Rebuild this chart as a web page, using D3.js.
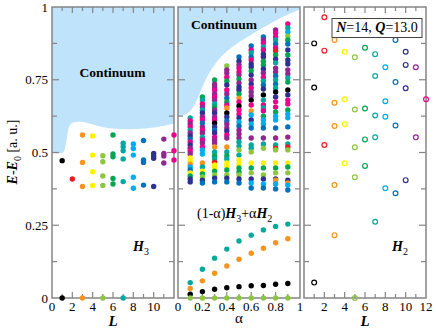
<!DOCTYPE html>
<html><head><meta charset="utf-8">
<script src="https://cdn.jsdelivr.net/npm/d3@7"></script>
<style>
body{margin:0;background:#fff}
svg{display:block}
text{font-family:"Liberation Serif","Times New Roman",serif;fill:#000}
</style>
</head><body><svg id="c" width="436" height="331"></svg>
<script>
// colour of each angular momentum L = 1..12
const lColors = ["#000000","#ed1c24","#f7941d","#fff200","#8dc63f","#00a651","#00a99d","#00aeef","#0072bc","#2e3192","#92278f","#ec008c"];

const yTicks = [0,0.25,0.5,0.75,1];
const yTickLabels = ["0","0.25","0.5","0.75","1"];
const lTicksLeft = [0,2,4,6,8,10];
const alphaTicks = [0,0.2,0.4,0.6,0.8,1];
const alphaTickLabels = ["0","0.2","0.4","0.6","0.8","1"];
const lTicksRight = [2,4,6,8,10,12];

// Panel 1 : H3 spectrum (filled dots)
const h3L = [1,1, 2, 3,3,3,3, 4,4,4,4, 5,5,5,5,5, 6,6,6,6,6, 7,7,7,7,7,7, 8,8,8,8,8, 9,9,9,9, 10,10,10,10, 11,11,11,11, 12,12,12];
const h3E = [0.472,0, 0.409, 0.560,0.466,0.383,0, 0.557,0.491,0.434,0.387, 0.489,0.468,0.419,0.387,0,
             0.560,0.495,0.485,0.411,0.392, 0.532,0.520,0.506,0.478,0.400,0, 0.529,0.514,0.491,0.415,0.377,
             0.541,0.474,0.466,0.388, 0.497,0.488,0.480,0.383, 0.546,0.497,0.488,0.464, 0.560,0.506,0.474];

// Panel 3 : H2 spectrum (open circles)
const h2L = [1,1,1, 2,2,2, 3,3,3,3,3, 4,4,4,4, 5,5,5,5,5,5, 6,6,6,6, 7,7,7,7,7, 8,8,8,8, 9,9,9,9, 10,10,10,10, 11,11, 12];
const h2E = [0.875,0.723,0.053, 0.965,0.850,0.526, 0.887,0.671,0.591,0.388,0.216, 0.846,0.683,0.597,0.463,
             0.911,0.827,0.648,0.518,0.415,0, 0.860,0.651,0.545,0.454, 0.838,0.763,0.627,0.552,0.262,
             0.793,0.676,0.623,0.377, 0.887,0.742,0.593,0.360, 0.846,0.801,0.721,0.405, 0.793,0.552, 0.683];

// Panel 2 : (1-a)H3 + aH2, one list of [L, E] per alpha
const alphas = [0.1,0.2,0.3,0.4,0.5,0.6,0.7,0.8,0.9];
const mix01 = [[7,.619],[12,.608],[11,.598],[12,.588],[7,.577],[11,.567],[10,.557],[9,.546],[12,.536],[10,.526],[11,.515],[12,.505],[11,.495],[4,.481],[4,.471],[3,.460],[8,.450],[9,.440],[4,.430],[6,.419],[10,.409],[10,.399],[7,.053],[3,.033],[1,.013],[5,0]];
const mix02 = [[6,.691],[7,.680],[12,.667],[11,.656],[7,.646],[10,.636],[11,.622],[12,.612],[9,.601],[11,.588],[12,.577],[11,.567],[7,.553],[12,.543],[11,.533],[12,.519],[8,.509],[8,.495],[3,.464],[7,.450],[4,.436],[6,.426],[5,.416],[10,.405],[9,.395],[7,.099],[3,.059],[1,.022],[5,0]];
const mix03 = [[6,.749],[11,.735],[11,.725],[12,.715],[11,.701],[12,.691],[11,.680],[7,.667],[6,.656],[11,.646],[10,.636],[11,.622],[12,.612],[1,.601],[10,.588],[9,.577],[10,.567],[12,.553],[11,.543],[11,.533],[3,.519],[7,.502],[6,.488],[7,.478],[2,.467],[4,.457],[4,.447],[6,.436],[5,.423],[10,.412],[9,.399],[7,.137],[3,.085],[1,.030],[5,0]];
const mix04 = [[5,.797],[11,.784],[11,.773],[12,.759],[6,.746],[10,.732],[12,.715],[11,.701],[9,.687],[6,.674],[12,.663],[3,.653],[1,.636],[10,.622],[9,.608],[11,.598],[11,.584],[10,.574],[12,.560],[11,.550],[3,.519],[7,.502],[6,.488],[7,.478],[4,.464],[4,.454],[6,.440],[5,.423],[10,.412],[9,.399],[7,.168],[3,.110],[1,.035],[5,0]];
const mix05 = [[9,.828],[10,.814],[11,.801],[12,.790],[12,.777],[11,.766],[6,.753],[11,.739],[10,.725],[10,.715],[6,.701],[3,.687],[12,.674],[1,.660],[12,.646],[12,.632],[10,.619],[8,.605],[9,.591],[11,.577],[11,.564],[11,.550],[7,.536],[7,.522],[5,.509],[7,.491],[4,.474],[4,.460],[6,.447],[6,.433],[5,.423],[10,.409],[9,.395],[7,.196],[3,.133],[1,.039],[5,0]];
const mix06 = [[9,.866],[12,.852],[7,.842],[9,.828],[12,.818],[10,.804],[10,.794],[6,.780],[10,.766],[11,.749],[10,.735],[12,.722],[11,.708],[11,.694],[1,.680],[12,.663],[3,.643],[8,.629],[10,.612],[8,.598],[9,.584],[11,.550],[7,.526],[7,.515],[5,.502],[4,.464],[6,.447],[5,.430],[10,.409],[8,.395],[9,.378],[7,.216],[3,.154],[1,.042],[5,0]];
const mix07 = [[9,.897],[11,.887],[12,.876],[7,.863],[12,.852],[10,.838],[10,.828],[6,.814],[6,.801],[10,.787],[11,.773],[12,.759],[7,.746],[9,.732],[10,.718],[1,.698],[7,.680],[12,.663],[7,.653],[12,.643],[6,.625],[8,.612],[8,.598],[9,.584],[11,.550],[7,.529],[5,.515],[4,.464],[6,.447],[5,.423],[10,.409],[8,.392],[9,.378],[7,.234],[3,.171],[1,.043],[5,0]];
const mix08 = [[11,.921],[12,.911],[12,.897],[7,.887],[9,.873],[12,.859],[2,.849],[6,.835],[10,.821],[7,.808],[11,.790],[11,.777],[9,.763],[7,.749],[9,.735],[7,.722],[1,.708],[10,.691],[12,.674],[12,.656],[6,.639],[8,.625],[8,.612],[9,.584],[11,.550],[7,.526],[2,.515],[5,.509],[4,.464],[6,.447],[5,.430],[10,.409],[3,.405],[8,.392],[9,.375],[7,.246],[3,.190],[1,.047],[5,0]];
const mix09 = [[12,.942],[7,.928],[8,.914],[5,.900],[6,.887],[9,.873],[10,.852],[6,.835],[10,.818],[10,.804],[11,.784],[11,.770],[7,.756],[6,.742],[1,.715],[10,.698],[12,.680],[12,.667],[6,.646],[8,.632],[8,.619],[9,.588],[11,.553],[7,.529],[2,.519],[5,.509],[4,.464],[6,.450],[5,.430],[10,.405],[3,.395],[8,.388],[9,.371],[7,.254],[3,.204],[1,.050],[5,0]];
const mixColumns = [mix01,mix02,mix03,mix04,mix05,mix06,mix07,mix08,mix09];

// continuum thresholds (control points of a smooth boundary)
const cont1L = [0,0.9,1.2,1.4,1.55,1.75,2.1,2.8,3.6,4.6,6.0,7.5,9.2,10.8,12];
const cont1E = [0.497,0.497,0.500,0.530,0.575,0.598,0.605,0.607,0.602,0.590,0.581,0.579,0.582,0.590,0.600];
const cont2A = [0,0.05,0.10,0.14,0.18,0.22,0.26,0.31,0.36,0.42,0.48,0.55,0.62,0.70,0.77,0.85,0.93,1.0];
const cont2E = [0.623,0.628,0.640,0.665,0.705,0.745,0.778,0.808,0.833,0.856,0.874,0.892,0.910,0.930,0.947,0.964,0.980,0.992];

const svg = d3.select("#c");
const y = d3.scaleLinear().domain([0,1]).range([298,7]);
const x1 = d3.scaleLinear().domain([0,12]).range([52,174]);
const x2 = d3.scaleLinear().domain([0,1]).range([178,300]);
const x3 = d3.scaleLinear().domain([0,12]).range([304,426]);
const FRAME = "#858585";
const R = 2.7;

// continuum fills
const area1 = d3.area().x((d,i)=>x1(cont1L[i])).y0(y(1)).y1((d,i)=>y(cont1E[i])).curve(d3.curveBasis);
svg.append("path").attr("d", area1(cont1L)).attr("fill","#bfe3fb");
const area2 = d3.area().x((d,i)=>x2(cont2A[i])).y0(y(1)).y1((d,i)=>y(cont2E[i])).curve(d3.curveBasis);
svg.append("path").attr("d", area2(cont2A)).attr("fill","#bfe3fb");

function frame(x, majors, minors){
  const [xa,xb] = x.range();
  const g = svg.append("g");
  g.append("rect").attr("x",xa).attr("y",y(1)).attr("width",xb-xa).attr("height",y(0)-y(1))
    .attr("fill","none").attr("stroke",FRAME).attr("stroke-width",1.5);
  const yMinor = d3.range(0,1.0001,0.125);
  yMinor.forEach(v=>{
    if (v<=0||v>=1) return;
    const len = Math.abs(v*4-Math.round(v*4))<1e-6 ? 7 : 5;
    g.append("line").attr("x1",xa).attr("x2",xa+len).attr("y1",y(v)).attr("y2",y(v)).attr("stroke",FRAME).attr("stroke-width",1.2);
    g.append("line").attr("x1",xb).attr("x2",xb-len).attr("y1",y(v)).attr("y2",y(v)).attr("stroke",FRAME).attr("stroke-width",1.2);
  });
  const [d0,d1] = x.domain();
  const tick = (v,len)=>{
    if (v<=d0+1e-9||v>=d1-1e-9) return;
    g.append("line").attr("x1",x(v)).attr("x2",x(v)).attr("y1",y(0)).attr("y2",y(0)-len).attr("stroke",FRAME).attr("stroke-width",1.2);
    g.append("line").attr("x1",x(v)).attr("x2",x(v)).attr("y1",y(1)).attr("y2",y(1)+len).attr("stroke",FRAME).attr("stroke-width",1.2);
  };
  majors.forEach(v=>tick(v,6));
  minors.forEach(v=>tick(v,4));
}
frame(x1, d3.range(0,13,2), d3.range(1,12,2));
frame(x2, [0.2,0.4,0.6,0.8], [0.1,0.3,0.5,0.7,0.9]);
frame(x3, d3.range(0,13,2), d3.range(1,12,2));

// y tick labels
svg.append("g").selectAll("text").data(yTicks).join("text")
  .attr("x",48).attr("y",d=>y(d)).attr("dy","0.35em").attr("text-anchor","end")
  .attr("font-size",13).text((d,i)=>yTickLabels[i]);
// x tick labels
const xl = (scale, vals, labels)=> svg.append("g").selectAll("text").data(vals).join("text")
  .attr("x",d=>scale(d)).attr("y",310.5).attr("text-anchor","middle").attr("font-size",13)
  .text((d,i)=>labels ? labels[i] : String(d));
xl(x1, lTicksLeft);
xl(x2, alphaTicks, alphaTickLabels);
xl(x3, lTicksRight);

// data: panel 1
svg.append("g").selectAll("circle").data(h3L).join("circle")
  .attr("cx",d=>x1(d)).attr("cy",(d,i)=>y(h3E[i])).attr("r",R).attr("fill",d=>lColors[d-1]);
// panel 2
const mixG = svg.append("g");
mixColumns.forEach((col,j)=>{
  mixG.append("g").selectAll("circle").data(col).join("circle")
    .attr("cx",x2(alphas[j])).attr("cy",d=>y(d[1])).attr("r",R).attr("fill",d=>lColors[d[0]-1]);
});
// panel 3
svg.append("g").selectAll("circle").data(h2L).join("circle")
  .attr("cx",d=>x3(d)).attr("cy",(d,i)=>y(h2E[i])).attr("r",R-0.3)
  .attr("fill","none").attr("stroke",d=>lColors[d-1]).attr("stroke-width",1.2);

// legend box
svg.append("rect").attr("x",332).attr("y",18.5).attr("width",90).attr("height",19)
  .attr("fill","#fff").attr("stroke","#444").attr("stroke-width",1);
const lg = svg.append("text").attr("x",377).attr("y",31.5).attr("text-anchor","middle").attr("font-size",14);
lg.append("tspan").attr("font-weight","bold").attr("font-style","italic").text("N");
lg.append("tspan").text("=14, ");
lg.append("tspan").attr("font-weight","bold").attr("font-style","italic").text("Q");
lg.append("tspan").text("=13.0");

// Continuum labels
svg.append("text").attr("x",112.5).attr("y",77).attr("text-anchor","middle").attr("font-size",13.5).attr("font-weight","bold").text("Continuum");
svg.append("text").attr("x",224).attr("y",29).attr("text-anchor","middle").attr("font-size",13.5).attr("font-weight","bold").text("Continuum");

// H labels
function hLabel(xp, yp, sub){
  const t = svg.append("text").attr("x",xp).attr("y",yp).attr("font-size",14);
  t.append("tspan").attr("font-weight","bold").attr("font-style","italic").text("H");
  t.append("tspan").attr("font-size",10).attr("dy",4).text(sub);
}
hLabel(133,251,"3");
hLabel(392,251,"2");
const mixT = svg.append("text").attr("x",197).attr("y",217.5).attr("font-size",14);
mixT.append("tspan").text("(1-α)");
mixT.append("tspan").attr("font-weight","bold").attr("font-style","italic").text("H");
mixT.append("tspan").attr("font-size",10).attr("dy",4).text("3");
mixT.append("tspan").attr("dy",-4).text("+α");
mixT.append("tspan").attr("font-weight","bold").attr("font-style","italic").text("H");
mixT.append("tspan").attr("font-size",10).attr("dy",4).text("2");

// axis titles
svg.append("text").attr("x",113).attr("y",326).attr("text-anchor","middle").attr("font-size",15)
  .attr("font-weight","bold").attr("font-style","italic").text("L");
svg.append("text").attr("x",239).attr("y",323).attr("text-anchor","middle").attr("font-size",15).text("α");
svg.append("text").attr("x",365).attr("y",326).attr("text-anchor","middle").attr("font-size",15)
  .attr("font-weight","bold").attr("font-style","italic").text("L");
const yt = svg.append("text").attr("transform","translate(17,152) rotate(-90)").attr("text-anchor","middle").attr("font-size",14);
yt.append("tspan").attr("font-weight","bold").attr("font-style","italic").text("E");
yt.append("tspan").text("-");
yt.append("tspan").attr("font-weight","bold").attr("font-style","italic").text("E");
yt.append("tspan").attr("font-size",10).attr("dy",4).text("0");
yt.append("tspan").attr("dy",-4).text(" [a. u.]");
</script>
</body></html>
